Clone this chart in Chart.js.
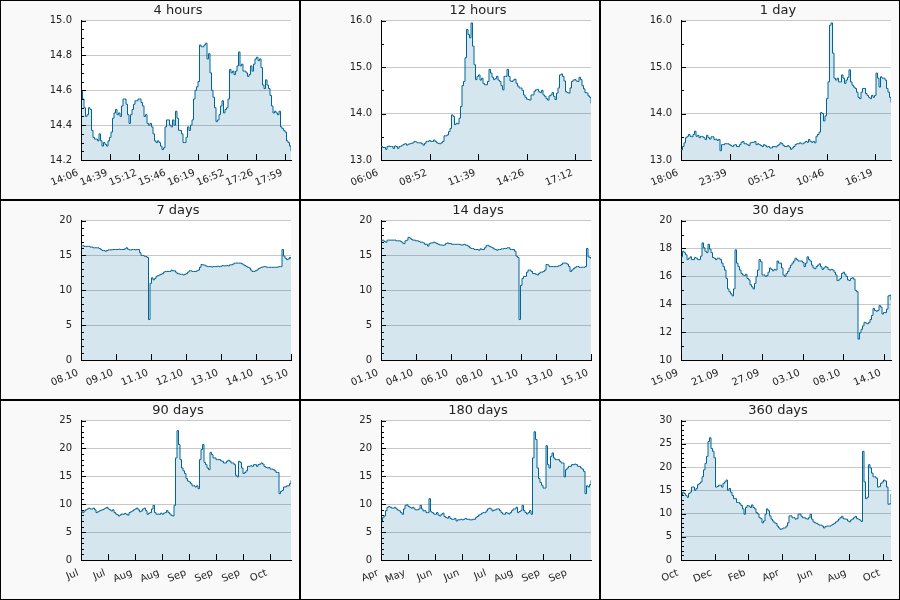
<!DOCTYPE html>
<html><head><meta charset="utf-8">
<script src="https://cdn.jsdelivr.net/npm/chart.js@4.4.1/dist/chart.umd.min.js"></script>
<style>
html,body{margin:0;padding:0;background:#fff;}
#grid{display:grid;grid-template-columns:300px 300px 300px;grid-template-rows:200px 200px 200px;width:900px;height:600px;}
.cell{box-sizing:border-box;border:1px solid #000;background:#f9f9f9;width:300px;height:200px;overflow:hidden;}
canvas{display:block;}
</style></head><body>
<div id="grid"></div>
<script>
// ---- titles ----
const titles = ['4 hours','12 hours','1 day','7 days','14 days','30 days','90 days','180 days','360 days'];

// ---- x ranges (minutes / hours / days from start) ----
const ranges = [240, 720, 1440, 168, 336, 30, 90, 180, 360];

// ---- x tick positions and labels ----
const tickPos4h = [0,33.33,66.67,100,133.33,166.67,200,233.33];
const tickLab4h = ['14:06','14:39','15:12','15:46','16:19','16:52','17:26','17:59'];
const tickPos12h = [0,166.67,333.33,500,666.67];
const tickLab12h = ['06:06','08:52','11:39','14:26','17:12'];
const tickPos1d = [0,333.33,666.67,1000,1333.33];
const tickLab1d = ['18:06','23:39','05:12','10:46','16:19'];
const tickPos7d = [0,28,56,84,112,140,168];
const tickLab7d = ['08.10','09.10','11.10','12.10','13.10','14.10','15.10'];
const tickPos14d = [0,56,112,168,224,280,336];
const tickLab14d = ['01.10','04.10','06.10','08.10','11.10','13.10','15.10'];
const tickPos30d = [0,5.79,11.58,17.37,23.16,28.95];
const tickLab30d = ['15.09','21.09','27.09','03.10','08.10','14.10'];
const tickPos90d = [0,11.55,23.1,34.65,46.2,57.75,69.3,80.85];
const tickLab90d = ['Jul','Jul','Aug','Aug','Sep','Sep','Sep','Oct'];
const tickPos180d = [0,23.1,46.2,69.3,92.4,115.5,138.6,161.7];
const tickLab180d = ['Apr','May','Jun','Jun','Jul','Aug','Sep','Sep'];
const tickPos360d = [0,57.6,115.2,172.8,230.4,288,345.6];
const tickLab360d = ['Oct','Dec','Feb','Apr','Jun','Aug','Oct'];

// ---- y axis settings: min, max, major step, minor step, decimals ----
const yMin = [14.2, 13, 13, 0, 0, 10, 0, 0, 0];
const yMax = [15.0, 16, 16, 20, 20, 20, 25, 25, 30];
const yStep = [0.2, 1, 1, 5, 5, 2, 5, 5, 5];
const yMinor = [0.05, 0.5, 0.5, 1, 1, 1, 1, 1, 1];
const yDec = [1, 1, 1, 0, 0, 0, 0, 0, 0];

// ---- series values (evenly sampled over each range) ----
const v4h = [
14.60,14.55,14.50,14.45,14.46,14.50,14.49,14.37,14.33,14.32,14.32,14.31,14.35,14.31,14.28,14.30,14.29,14.28,14.31,14.33,
14.36,14.44,14.47,14.49,14.46,14.47,14.45,14.51,14.55,14.55,14.52,14.46,14.41,14.46,14.49,14.52,14.54,14.54,14.55,14.55,
14.53,14.51,14.45,14.46,14.41,14.40,14.41,14.39,14.35,14.31,14.30,14.31,14.30,14.28,14.26,14.27,14.39,14.43,14.43,14.40,
14.39,14.43,14.40,14.48,14.44,14.37,14.37,14.35,14.30,14.30,14.33,14.39,14.37,14.40,14.43,14.55,14.60,14.62,14.65,14.86,
14.85,14.85,14.86,14.87,14.78,14.81,14.70,14.60,14.56,14.50,14.42,14.43,14.46,14.51,14.54,14.47,14.49,14.50,14.55,14.72,
14.70,14.71,14.69,14.71,14.74,14.82,14.74,14.75,14.71,14.71,14.70,14.68,14.69,14.74,14.71,14.75,14.78,14.79,14.77,14.78,
14.73,14.63,14.61,14.66,14.63,14.61,14.57,14.51,14.47,14.48,14.47,14.46,14.48,14.39,14.38,14.37,14.36,14.31,14.30,14.28,
14.25];
const v12h = [
13.29,13.27,13.27,13.23,13.29,13.30,13.29,13.29,13.25,13.30,13.29,13.25,13.29,13.30,13.32,13.34,13.35,13.32,13.34,13.35,
13.36,13.37,13.40,13.39,13.37,13.37,13.37,13.35,13.32,13.36,13.40,13.40,13.42,13.40,13.40,13.43,13.40,13.37,13.36,13.35,
13.37,13.40,13.52,13.52,13.54,13.61,13.68,13.97,13.94,13.76,13.79,13.78,13.90,14.15,14.60,14.69,15.20,15.81,15.70,15.63,
15.95,15.45,15.05,14.73,14.80,14.83,14.72,14.76,14.65,14.62,14.62,14.69,14.95,14.87,14.78,14.73,14.75,14.80,14.72,14.69,
14.60,14.51,14.80,14.80,14.95,14.80,14.70,14.69,14.72,14.74,14.65,14.59,14.55,14.55,14.50,14.40,14.35,14.31,14.30,14.29,
14.40,14.40,14.48,14.51,14.52,14.47,14.45,14.50,14.40,14.37,14.32,14.29,14.38,14.40,14.45,14.37,14.30,14.44,14.55,14.83,
14.85,14.80,14.70,14.47,14.45,14.44,14.55,14.69,14.72,14.73,14.70,14.69,14.78,14.73,14.60,14.53,14.45,14.44,14.38,14.35,
14.22];
const v1d = [
13.22,13.29,13.37,13.48,13.51,13.55,13.51,13.50,13.55,13.62,13.51,13.53,13.48,13.51,13.50,13.48,13.44,13.53,13.48,13.45,
13.50,13.50,13.44,13.45,13.42,13.44,13.20,13.33,13.33,13.35,13.35,13.35,13.33,13.31,13.29,13.32,13.33,13.29,13.29,13.33,
13.38,13.40,13.35,13.35,13.33,13.31,13.37,13.38,13.38,13.40,13.33,13.35,13.33,13.31,13.29,13.33,13.31,13.28,13.29,13.26,
13.26,13.29,13.29,13.28,13.31,13.33,13.37,13.35,13.31,13.29,13.29,13.31,13.28,13.23,13.26,13.29,13.33,13.35,13.35,13.37,
13.35,13.35,13.38,13.40,13.38,13.44,13.40,13.38,13.40,13.37,13.51,13.55,13.60,14.02,14.00,13.84,13.95,14.32,14.68,15.90,
15.95,15.30,14.76,14.72,14.76,14.68,14.68,14.83,14.76,14.65,14.72,14.78,14.94,14.68,14.61,14.57,14.54,14.46,14.35,14.32,
14.46,14.54,14.54,14.43,14.39,14.35,14.32,14.39,14.35,14.39,14.87,14.76,14.57,14.79,14.76,14.76,14.72,14.54,14.46,14.35,
14.24];
const v7d = [
16.4,16.4,16.3,16.3,16.3,16.3,16.2,16.2,16.1,16.1,16.1,16.1,16.0,15.85,15.7,15.7,15.6,15.7,15.8,15.8,
15.8,15.85,15.85,15.85,15.85,15.9,15.85,15.85,15.85,15.95,16.1,15.9,15.8,15.8,15.85,15.85,15.8,15.85,15.85,15.4,
15.0,15.0,14.9,14.85,14.7,5.8,11.0,11.8,11.5,11.7,12.0,12.1,12.2,12.3,12.4,12.6,12.7,12.7,12.7,12.7,
12.9,12.8,12.8,12.6,12.4,12.35,12.3,12.3,12.2,12.3,12.4,12.6,12.8,12.8,12.7,12.7,12.7,12.8,12.9,13.3,
13.7,13.65,13.6,13.5,13.4,13.4,13.4,13.35,13.4,13.4,13.4,13.45,13.4,13.45,13.55,13.5,13.5,13.55,13.5,13.65,
13.65,13.75,13.9,13.9,13.9,13.9,13.9,13.8,13.65,13.55,13.4,13.3,13.2,12.9,12.7,12.7,12.8,12.9,13.1,13.2,
13.3,13.35,13.4,13.35,13.3,13.3,13.3,13.3,13.3,13.3,13.3,13.35,13.4,13.4,15.85,14.9,14.6,14.4,14.5,14.7,
14.5];
const v14d = [
17.1,17.2,17.0,16.9,17.2,17.2,17.2,17.2,17.2,17.2,17.1,17.1,17.1,17.0,16.8,16.7,17.1,17.2,17.6,17.5,
17.3,17.2,17.2,17.1,17.1,17.0,16.9,16.9,16.8,16.6,16.6,16.35,16.7,16.8,16.8,16.9,16.8,16.7,16.6,16.5,
16.5,16.45,16.5,16.7,16.8,16.7,16.7,16.6,16.6,16.6,16.6,16.6,16.6,16.5,16.5,16.6,16.5,16.45,16.3,16.1,
16.0,16.0,15.85,15.85,15.85,15.75,15.95,15.85,15.85,16.1,16.4,16.45,16.3,16.2,16.1,15.95,15.85,15.75,15.85,15.85,
15.95,15.95,16.0,16.0,16.1,16.1,15.85,15.85,15.85,15.6,14.9,14.7,5.8,10.7,11.7,12.0,12.0,12.6,12.9,12.9,
12.7,12.4,12.4,12.3,12.2,12.4,12.6,12.6,12.7,12.9,13.7,13.65,13.4,13.4,13.4,13.4,13.4,13.4,13.5,13.55,
13.7,13.9,13.9,13.9,13.75,13.4,12.7,12.9,13.1,13.25,13.4,13.4,13.3,13.3,13.3,13.3,13.4,16.0,14.8,14.7,
14.5];
const v30d = [
17.4,17.8,17.7,17.55,17.2,17.3,17.4,17.2,17.2,17.35,17.3,17.2,17.2,17.45,18.4,18.05,17.8,17.7,18.3,17.95,
17.7,17.35,17.3,17.2,17.3,17.3,17.2,16.95,16.7,16.45,15.85,15.1,14.9,14.75,14.6,15.1,17.9,16.95,16.7,16.45,
16.2,16.1,16.05,16.15,15.85,15.75,15.4,15.25,15.1,15.5,16.0,16.45,17.2,17.05,16.1,16.1,16.0,16.05,16.3,16.6,
16.5,16.4,16.5,16.45,17.1,16.95,16.95,16.6,16.1,16.0,16.2,16.35,16.6,16.8,16.95,17.1,17.3,17.2,17.1,17.1,
17.1,17.0,16.7,16.95,17.4,17.2,17.1,16.8,16.6,16.55,16.7,16.8,16.9,16.7,16.5,16.6,16.7,16.65,16.5,16.45,
16.5,16.45,16.3,16.1,15.7,15.75,15.85,16.2,16.3,16.15,16.0,15.75,15.7,15.85,15.9,15.8,15.0,14.9,11.5,11.95,
12.2,12.45,12.7,12.65,12.6,12.7,12.9,13.2,13.7,13.55,13.5,13.55,13.9,13.8,13.3,13.4,13.4,13.65,14.6,14.65,
14.3];
const v90d = [
8.7,8.5,8.8,9.0,9.15,9.3,9.15,9.15,9.3,9.0,8.5,8.65,8.8,8.95,9.0,9.15,9.3,9.45,9.15,9.0,
8.8,9.0,8.5,8.25,8.1,7.9,8.1,8.25,8.2,8.35,8.2,8.05,8.5,8.65,8.8,9.0,9.15,9.3,9.0,8.65,
8.8,9.15,9.3,8.85,8.2,8.4,8.5,9.15,9.8,8.5,8.2,8.25,8.2,8.4,8.2,8.4,8.5,8.85,8.5,8.25,
8.0,7.9,9.8,18.3,23.2,20.7,18.0,16.5,16.0,15.5,14.6,14.15,14.0,13.7,13.3,13.3,13.1,13.3,12.8,18.0,
19.8,20.7,17.5,17.1,16.5,16.2,19.3,18.9,18.3,18.3,18.0,18.0,18.0,17.8,17.7,17.4,17.4,17.7,17.9,17.7,
17.4,17.4,17.1,15.2,14.9,17.7,17.5,16.5,15.5,15.7,16.0,16.8,16.8,16.9,16.8,17.1,17.1,16.8,17.1,17.2,
17.4,17.2,16.8,16.6,16.5,16.6,16.3,16.3,16.2,16.0,15.7,15.7,11.9,12.3,12.5,13.1,13.1,13.3,13.3,13.7,
14.3];
const v180d = [
7.0,7.6,7.9,8.85,9.45,9.6,9.45,9.3,9.3,9.45,9.15,8.95,8.8,8.5,8.2,9.15,9.8,9.9,9.6,9.45,
9.3,9.45,9.15,9.0,9.0,9.15,9.8,9.15,8.8,8.85,8.5,8.5,11.0,8.65,8.5,8.25,8.2,8.5,8.05,7.9,
8.2,8.4,7.8,7.6,7.5,7.8,7.45,7.3,7.3,7.45,7.0,7.2,7.2,7.3,7.2,7.3,7.45,7.3,7.3,7.2,
7.2,7.3,7.3,7.6,7.8,8.05,8.2,8.4,8.5,8.5,8.8,9.15,9.3,9.15,8.8,8.95,9.0,9.15,9.15,8.85,
8.5,8.25,8.2,8.5,8.4,8.25,8.5,8.85,9.15,9.15,9.45,8.5,8.7,8.85,9.8,8.85,8.5,8.25,8.5,8.85,
8.2,18.3,23.0,21.6,16.5,14.6,13.9,13.4,12.9,12.9,20.5,17.1,16.5,18.6,19.2,18.3,18.0,18.0,18.0,17.7,
17.4,17.4,14.9,16.2,16.5,16.8,16.8,17.1,17.1,17.2,17.1,16.8,16.8,16.5,16.3,15.9,11.9,13.3,13.1,13.5,
14.3];
const v360d = [
13.9,14.6,14.3,13.9,13.5,14.3,14.6,15.7,15.7,15.0,15.4,16.2,16.5,16.8,17.9,19.4,20.8,22.3,25.5,26.3,
24.0,23.4,22.0,15.7,15.8,16.1,16.1,15.7,16.5,16.8,17.2,15.0,15.4,14.6,13.9,13.2,13.2,12.4,12.4,12.1,
11.7,11.0,9.85,11.3,11.7,11.6,11.3,11.85,11.3,11.0,10.2,9.9,9.1,8.9,8.0,8.4,9.85,11.0,10.6,9.5,
8.8,8.4,8.0,7.9,7.3,6.9,6.6,6.7,6.9,6.9,7.3,8.0,9.5,9.5,9.1,9.1,8.8,8.9,9.85,9.9,
9.4,9.1,9.1,8.9,8.8,9.1,9.85,8.8,8.2,8.0,7.9,7.7,7.5,7.5,7.3,6.9,7.2,7.3,7.3,7.3,
7.5,7.7,7.9,8.2,8.4,8.8,9.1,9.4,8.9,8.8,8.8,8.4,8.2,8.6,8.8,9.1,9.4,8.9,8.8,8.6,
8.3,23.4,16.8,13.2,13.5,20.5,19.8,18.7,17.9,17.9,17.6,15.7,15.8,16.5,16.8,17.2,17.0,15.7,12.0,12.1,
14.2];

const series = [v4h, v12h, v1d, v7d, v14d, v30d, v90d, v180d, v360d];
const tickPositions = [tickPos4h, tickPos12h, tickPos1d, tickPos7d, tickPos14d, tickPos30d, tickPos90d, tickPos180d, tickPos360d];
const tickLabels = [tickLab4h, tickLab12h, tickLab1d, tickLab7d, tickLab14d, tickLab30d, tickLab90d, tickLab180d, tickLab360d];

Chart.defaults.font.family = '"DejaVu Sans", sans-serif';
Chart.defaults.font.size = 10;
Chart.defaults.color = '#222';

const LINE = '#006699';
const FILL = 'rgba(0,102,153,0.16)';

const panelPlugin = {
  id: 'panel',
  beforeDraw(chart) {
    const {ctx, chartArea: a} = chart;
    ctx.save();
    ctx.fillStyle = '#ffffff';
    ctx.fillRect(a.left, a.top, a.right - a.left, a.bottom - a.top);
    ctx.restore();
  },
  afterDatasetsDraw(chart, args, opts) {
    const {ctx, chartArea: a, scales: {x, y}} = chart;
    ctx.save();
    ctx.strokeStyle = '#000';
    ctx.lineWidth = 1;
    ctx.beginPath();
    const n = Math.round((y.max - y.min) / opts.minor);
    const ratio = Math.round(opts.major / opts.minor);
    for (let k = 0; k <= n; k++) {
      const v = y.min + k * opts.minor;
      const py = Math.round(y.getPixelForValue(v)) + 0.5;
      const len = (k % ratio === 0) ? 5 : 3;
      ctx.moveTo(a.left, py);
      ctx.lineTo(a.left + len, py);
    }
    x.ticks.forEach(t => {
      const px = Math.round(x.getPixelForValue(t.value)) + 0.5;
      ctx.moveTo(px, a.bottom);
      ctx.lineTo(px, a.bottom - 6);
    });
    ctx.stroke();
    ctx.restore();
  }
};

const grid = document.getElementById('grid');
titles.forEach((title, p) => {
  const cell = document.createElement('div');
  cell.className = 'cell';
  const cv = document.createElement('canvas');
  // canvas is wider than the cell on the right so that the centred title
  // sits where the reference puts it; the overflow is hidden by the cell
  cv.width = 354; cv.height = 198;
  cell.appendChild(cv);
  grid.appendChild(cell);

  const vals = series[p];
  const n = vals.length;
  const data = vals.map((v, i) => ({x: i * ranges[p] / (n - 1), y: v}));
  const tpos = tickPositions[p];
  const tlab = tickLabels[p];

  new Chart(cv, {
    type: 'line',
    data: { datasets: [{
      data, borderColor: LINE, backgroundColor: FILL, borderWidth: 1,
      pointRadius: 0, stepped: true, fill: 'start', tension: 0
    }]},
    options: {
      responsive: false, animation: false, devicePixelRatio: 1,
      layout: { padding: 0 },
      plugins: {
        legend: { display: false }, tooltip: { enabled: false },
        title: { display: true, text: title, color: '#222',
          font: { size: 13, weight: 'normal', lineHeight: 1.2 },
          padding: { top: 2, bottom: 2 } },
        panel: { major: yStep[p], minor: yMinor[p] }
      },
      scales: {
        x: {
          type: 'linear', min: 0, max: ranges[p],
          grid: { display: false, drawTicks: false },
          border: { display: true, color: '#000', width: 1 },
          afterBuildTicks: s => { s.ticks = tpos.map(v => ({ value: v })); },
          afterFit: s => { s.height = 39; },
          ticks: { autoSkip: false, minRotation: 22, maxRotation: 22, padding: 7, labelOffset: -3,
            callback: (v, i) => tlab[i] }
        },
        y: {
          min: yMin[p], max: yMax[p],
          grid: { color: '#c8c8c8', drawTicks: false },
          border: { display: true, color: '#000', width: 1 },
          afterFit: s => { s.width = 80; },
          ticks: { stepSize: yStep[p], padding: 9,
            callback: v => Number(v).toFixed(yDec[p]) }
        },
        yPad: {
          position: 'right', min: 0, max: 1,
          grid: { display: false, drawTicks: false },
          border: { display: false },
          ticks: { display: false },
          afterFit: s => { s.width = 64; }
        }
      }
    },
    plugins: [panelPlugin]
  });
});
</script>
</body></html>
